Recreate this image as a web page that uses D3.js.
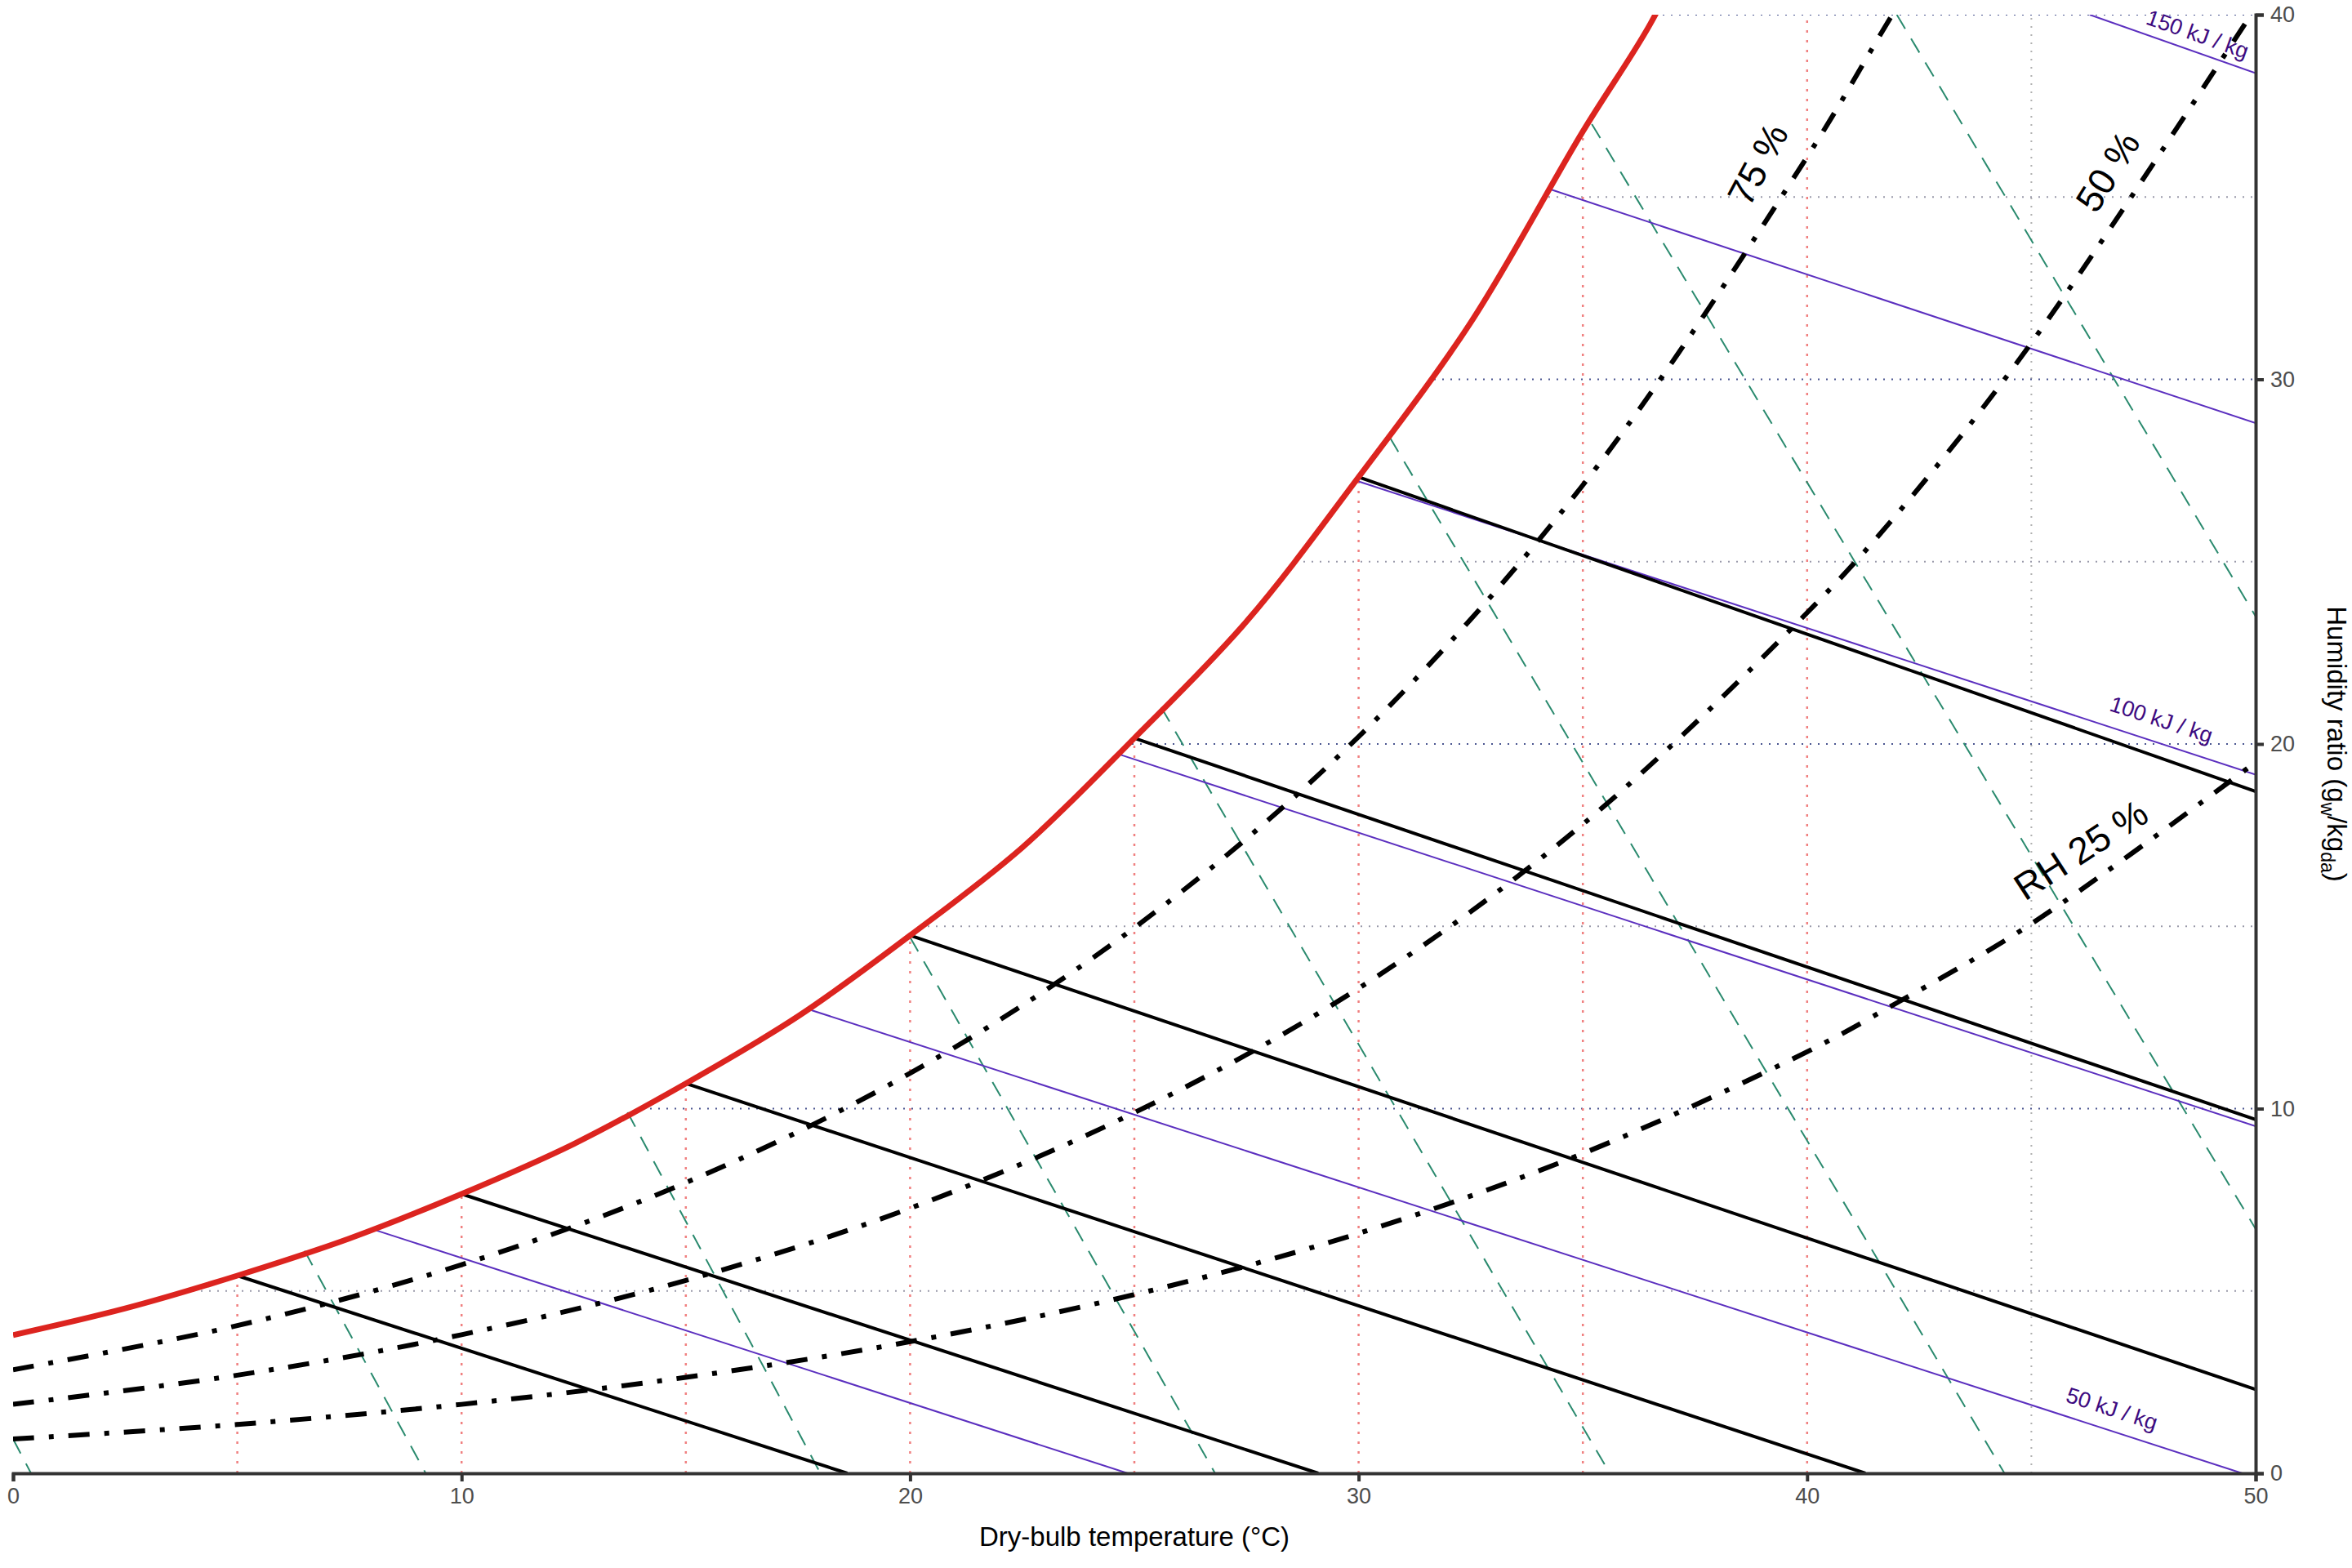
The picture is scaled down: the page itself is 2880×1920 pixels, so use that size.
<!DOCTYPE html>
<html>
<head>
<meta charset="utf-8">
<script src="https://cdn.jsdelivr.net/npm/d3@7"></script>
<style>
  body { margin: 0; background: #fff; }
  text { font-family: "Liberation Sans", Arial, sans-serif; }
</style>
</head>
<body>
<svg id="chart"></svg>
<script>
// saturation curve (dry-bulb °C, humidity ratio g/kg)
var satT = [0, 2.5, 5, 7.5, 10, 12.5, 15, 17.5, 20, 22.5, 25, 27.5, 30, 32.5, 35, 36.5, 37.5];
var satW = [3.79, 4.52, 5.42, 6.44, 7.66, 9.03, 10.69, 12.53, 14.75, 17.16, 20.16, 23.36, 27.32, 31.56, 36.8, 39.74, 42.2];

// relative humidity curves
var rhT = [0, 5, 10, 15, 20, 25, 30, 35, 40, 42, 45, 50];
var rh75 = [2.84, 4.05, 5.72, 7.97, 10.97, 14.96, 20.2, 27.1, 36.1, 40.2, 46, 55];
var rh50 = [1.89, 2.69, 3.80, 5.29, 7.27, 9.89, 13.3, 17.8, 23.6, 26.3, 31.0, 40.2];
var rh25 = [0.94, 1.34, 1.89, 2.63, 3.61, 4.90, 6.58, 8.77, 11.56, 12.9, 15.07, 19.5];
var rhLabels = ["75 %", "50 %", "RH 25 %"];
var rhLabelT = [38.9, 46.7, 46.1];
var rhLabelW = [35.9, 35.7, 17.1];
var rhLabelAngle = [-62, -58, -33];

// wet-bulb lines (start on saturation, end point)
var wbT1 = [5, 10, 15, 20, 25, 30];
var wbW1 = [5.42, 7.66, 10.69, 14.75, 20.16, 27.32];
var wbT2 = [18.6, 29.1, 41.3, 50, 50, 50];
var wbW2 = [0, 0, 0, 2.3, 9.7, 18.7];

// enthalpy lines (kJ/kg)
var hVal = [25, 50, 75, 100, 125, 150];
var hT1 = [8.0, 17.8, 24.7, 30.0, 34.3, 46.3];
var hW1 = [6.7, 12.7, 19.7, 27.2, 35.2, 40];
var hT2 = [24.85, 49.7, 50, 50, 50, 50];
var hW2 = [0, 0, 9.52, 19.16, 28.8, 38.4];
var hLabelVal = [50, 100, 150];
var hLabelT = [46.7, 47.8, 48.6];
var hLabelW = [1.4, 20.3, 39.1];

// specific volume lines
var vT1 = [0, 6.5, 13.7, 20.0, 25.6, 30.7, 35.2, 42.0];
var vW1 = [0.94, 6.1, 9.9, 14.7, 21.0, 28.4, 37.0, 40];
var vT2 = [0.4, 9.2, 18.0, 26.8, 35.6, 44.4, 50, 50];
var vW2 = [0, 0, 0, 0, 0, 0, 6.7, 23.5];

var xTicks = [0, 10, 20, 30, 40, 50];
var yTicks = [0, 10, 20, 30, 40];
var dbLines = [5, 10, 15, 20, 25, 30, 35, 40];

var width = 2880, height = 1920;
var margin = { top: 18, right: 118, bottom: 116, left: 16 };

var svg = d3.select("#chart").attr("width", width).attr("height", height);

var x = d3.scaleLinear().domain([0, 50]).range([margin.left, width - margin.right]);
var y = d3.scaleLinear().domain([0, 40]).range([height - margin.bottom, margin.top]);

var line = d3.line().curve(d3.curveCatmullRom);
var satPts = satT.map(function (t, i) { return [x(t), y(satW[i])]; });

svg.append("clipPath").attr("id", "plot")
  .append("rect")
  .attr("x", x(0)).attr("y", y(40))
  .attr("width", x(50) - x(0)).attr("height", y(0) - y(40));

// unsaturated region (below the saturation curve)
svg.append("clipPath").attr("id", "unsat")
  .append("path")
  .attr("d", line(satPts) + "L" + x(50) + "," + y(42.2) + "L" + x(50) + "," + y(0) + "L" + x(0) + "," + y(0) + "Z");

var g = svg.append("g").attr("clip-path", "url(#plot)");
var gu = g.append("g").attr("clip-path", "url(#unsat)");

// grid
[45].forEach(function (t) {
  gu.append("line")
    .attr("x1", x(t)).attr("x2", x(t)).attr("y1", y(0)).attr("y2", y(40))
    .attr("stroke", "#b0b0b0").attr("stroke-width", 2).attr("stroke-dasharray", "2,8");
});
d3.range(5, 41, 5).forEach(function (w) {
  gu.append("line")
    .attr("x1", x(0)).attr("x2", x(50)).attr("y1", y(w)).attr("y2", y(w))
    .attr("stroke", w % 10 === 0 ? "#4a5590" : "#9a9aaa")
    .attr("stroke-width", 2).attr("stroke-dasharray", "2,8");
});

// dry-bulb lines up to saturation
dbLines.forEach(function (t) {
  gu.append("line")
    .attr("x1", x(t)).attr("x2", x(t)).attr("y1", y(0)).attr("y2", y(40))
    .attr("stroke", "#f08080").attr("stroke-width", 2.5).attr("stroke-dasharray", "3,9");
});

// specific volume lines
vT1.forEach(function (t, i) {
  g.append("line")
    .attr("x1", x(t)).attr("y1", y(vW1[i])).attr("x2", x(vT2[i])).attr("y2", y(vW2[i]))
    .attr("stroke", "#2a8a6e").attr("stroke-width", 2).attr("stroke-dasharray", "20,14");
});

// enthalpy lines
hT1.forEach(function (t, i) {
  g.append("line")
    .attr("x1", x(t)).attr("y1", y(hW1[i])).attr("x2", x(hT2[i])).attr("y2", y(hW2[i]))
    .attr("stroke", "#5b2fbf").attr("stroke-width", 2);
});

// wet-bulb lines
wbT1.forEach(function (t, i) {
  g.append("line")
    .attr("x1", x(t)).attr("y1", y(wbW1[i])).attr("x2", x(wbT2[i])).attr("y2", y(wbW2[i]))
    .attr("stroke", "#000").attr("stroke-width", 4);
});

// RH curves
[rh75, rh50, rh25].forEach(function (arr) {
  g.append("path")
    .attr("d", line(rhT.map(function (t, i) { return [x(t), y(arr[i])]; })))
    .attr("fill", "none").attr("stroke", "#000").attr("stroke-width", 6)
    .attr("stroke-dasharray", "26,18,6,18");
});

// saturation curve
g.append("path")
  .attr("d", line(satPts))
  .attr("fill", "none").attr("stroke", "#dc241f").attr("stroke-width", 7);

// RH labels
rhLabels.forEach(function (s, i) {
  svg.append("text")
    .attr("transform", "translate(" + x(rhLabelT[i]) + "," + y(rhLabelW[i]) + ") rotate(" + rhLabelAngle[i] + ")")
    .attr("text-anchor", "middle").attr("dy", "0.35em")
    .attr("font-size", 46).attr("fill", "#000").text(s);
});

// enthalpy labels
hLabelVal.forEach(function (h, i) {
  var k = hVal.indexOf(h);
  var ang = Math.atan2(y(hW2[k]) - y(hW1[k]), x(hT2[k]) - x(hT1[k])) * 180 / Math.PI;
  svg.append("text")
    .attr("transform", "translate(" + x(hLabelT[i]) + "," + y(hLabelW[i]) + ") rotate(" + ang + ")")
    .attr("text-anchor", "middle").attr("dy", "-0.3em")
    .attr("font-size", 27).attr("fill", "#3d0a80").text(h + " kJ / kg");
});

// axes
var xAxis = svg.append("g")
  .attr("transform", "translate(0," + y(0) + ")")
  .call(d3.axisBottom(x).tickValues(xTicks).tickSize(10).tickPadding(8));
var yAxis = svg.append("g")
  .attr("transform", "translate(" + x(50) + ",0)")
  .call(d3.axisRight(y).tickValues(yTicks).tickSize(10).tickPadding(8));
[xAxis, yAxis].forEach(function (a) {
  a.select(".domain").attr("stroke", "#333").attr("stroke-width", 4);
  a.selectAll(".tick line").attr("stroke", "#333").attr("stroke-width", 4);
  a.selectAll(".tick text").attr("font-size", 27).attr("fill", "#4d4d4d")
    .attr("font-family", "Liberation Sans, Arial, sans-serif");
});

svg.append("text")
  .attr("x", (x(0) + x(50)) / 2).attr("y", 1893)
  .attr("text-anchor", "middle").attr("font-size", 33).attr("fill", "#000")
  .text("Dry-bulb temperature (°C)");

var yt = svg.append("text")
  .attr("transform", "translate(2850," + (y(0) + y(40)) / 2 + ") rotate(90)")
  .attr("text-anchor", "middle").attr("font-size", 33).attr("fill", "#000");
yt.append("tspan").text("Humidity ratio (g");
yt.append("tspan").attr("font-size", 23).attr("dy", 8).text("w");
yt.append("tspan").attr("dy", -8).text("/kg");
yt.append("tspan").attr("font-size", 23).attr("dy", 8).text("da");
yt.append("tspan").attr("dy", -8).text(")");
</script>
</body>
</html>
